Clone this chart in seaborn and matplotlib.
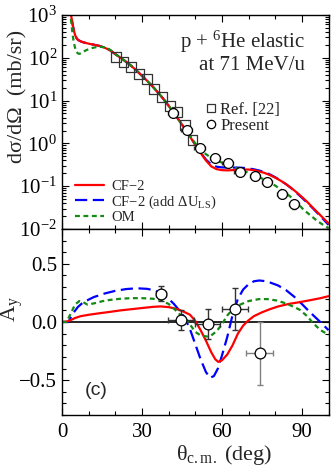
import numpy as np
import pandas as pd
import matplotlib
matplotlib.use("Agg")
import matplotlib.pyplot as plt
import seaborn as sns
from matplotlib.ticker import MultipleLocator, LogLocator, NullFormatter
from matplotlib.lines import Line2D

sns.set_theme(style="ticks")
plt.rcParams['font.family'] = ['Liberation Serif', 'DejaVu Serif']
plt.rcParams['mathtext.fontset'] = 'custom'
plt.rcParams['mathtext.rm'] = 'Liberation Serif'
plt.rcParams['mathtext.it'] = 'Liberation Serif:italic'
plt.rcParams['mathtext.bf'] = 'Liberation Serif:bold'

# --- cross section curves (deg, mb/sr)
cf2_deg = [2.8, 3.4, 4.0, 4.5, 5.0, 5.5, 6.0, 7, 8, 10, 12, 14, 16, 18, 20, 22, 24, 26, 28, 30, 32, 34, 36,
           38, 40, 42, 44, 46, 48, 50, 52, 54, 56, 58, 60, 62, 64, 66, 68, 70, 72, 74, 76, 78, 80, 82, 84,
           86, 88, 90, 92, 94, 96, 98, 100]
cf2_xs = [2000, 1000, 600, 420, 330, 285, 262, 242, 230, 214, 202, 190, 172, 150, 122, 100, 81, 64.6, 50.1,
          38, 28.8, 21.4, 15.5, 11, 7.6, 5.1, 3.4, 2.24, 1.45, 0.93, 0.60, 0.40, 0.29, 0.25, 0.237, 0.234,
          0.237, 0.243, 0.245, 0.245, 0.237, 0.221, 0.204, 0.182, 0.158, 0.135, 0.112, 0.091, 0.072, 0.056,
          0.043, 0.032, 0.024, 0.018, 0.0135]

cf2ls_deg = cf2_deg
cf2ls_xs = cf2_xs[:30] + [0.61, 0.42, 0.32, 0.285, 0.275, 0.272, 0.272, 0.272, 0.268, 0.26, 0.248, 0.232,
                          0.212, 0.188, 0.162, 0.137, 0.112, 0.09, 0.07, 0.054, 0.041, 0.031, 0.023, 0.017,
                          0.0125]

om_deg = [2.8, 3.2, 3.7, 4.2, 4.8, 5.4, 6.0, 6.6, 7.5, 9, 11, 13, 15, 17, 19, 20, 22, 24, 26, 28, 30, 32, 34,
          36, 38, 40, 42, 44, 46, 48, 50, 52, 54, 56, 58, 60, 62, 64, 66, 68, 70, 72, 74, 76, 78, 80, 82,
          84, 86, 88, 90, 92, 94, 96, 98, 100]
om_xs = [2000, 1000, 500, 280, 180, 140, 126, 124, 132, 150, 168, 178, 180, 170, 140, 122, 100, 81, 64.6,
         50.1, 38, 28.8, 21.4, 15.5, 11, 7.6, 5.1, 3.4, 2.3, 1.5, 1.0, 0.72, 0.56, 0.46, 0.4, 0.355, 0.32,
         0.285, 0.255, 0.228, 0.205, 0.183, 0.162, 0.142, 0.122, 0.103, 0.085, 0.069, 0.055, 0.043, 0.031,
         0.024, 0.019, 0.015, 0.0125, 0.0105]

# --- measured cross sections
ref22_deg = [20.25, 23.1, 26.0, 28.9, 31.8, 34.6, 37.5, 40.4, 43.3, 46.1, 49.0]
ref22_xs = [104, 80, 61, 42, 32, 18.7, 12.1, 7.5, 5.4, 2.7, 1.2]

pres_deg = [41.6, 46.8, 51.7, 57.4, 62.2, 66.7, 72.4, 76.9, 82.5, 87.0]
pres_xs = [5.05, 2.06, 0.77, 0.45, 0.34, 0.22, 0.176, 0.128, 0.066, 0.038]
pres_xerr = [2.0] * 10
pres_yerr = [0.4, 0.18, 0.07, 0.045, 0.035, 0.025, 0.02, 0.016, 0.011, 0.008]

# --- analyzing power curves
ay_cf2_deg = [0, 2, 3, 5, 7, 10, 14, 18, 22, 26, 30, 34, 37, 40, 42, 44, 46, 48, 50, 52, 54, 56, 57.5, 58.6,
              60, 62, 64, 66, 68, 70, 72, 75, 78, 81, 85, 89, 93, 97, 100]
ay_cf2 = [0, 0.005, 0.014, 0.035, 0.05, 0.062, 0.075, 0.087, 0.1, 0.11, 0.12, 0.13, 0.134, 0.128, 0.118,
          0.105, 0.085, 0.063, 0.01, -0.07, -0.16, -0.26, -0.32, -0.343, -0.33, -0.28, -0.2, -0.1, -0.03,
          0.015, 0.05, 0.083, 0.11, 0.133, 0.155, 0.17, 0.187, 0.205, 0.222]

ay_cf2ls_deg = [0, 2.4, 4, 6, 8, 12, 16, 20, 24, 28, 32, 35, 38, 40, 42, 44, 46, 48, 50, 52, 54, 55.5, 57,
                58.5, 60, 62, 64, 66, 68, 70, 72, 74, 76, 78, 81, 84, 87, 90, 93, 96, 100]
ay_cf2ls = [0, 0, 0.07, 0.13, 0.17, 0.215, 0.245, 0.268, 0.283, 0.29, 0.285, 0.27, 0.235, 0.2, 0.155, 0.1,
            0.04, -0.06, -0.19, -0.32, -0.43, -0.48, -0.465, -0.4, -0.29, -0.13, 0.06, 0.2, 0.28, 0.325,
            0.35, 0.357, 0.352, 0.34, 0.315, 0.275, 0.22, 0.155, 0.085, 0.02, -0.07]

ay_om_deg = [0, 1.7, 3, 4.9, 6.5, 8, 9.5, 12, 15, 18, 22, 26, 30, 34, 37, 40, 42, 44, 46.7, 48, 50, 52, 54.3,
             56, 58, 60, 62, 64, 66.7, 70, 74, 77, 80.5, 84, 87, 89.2, 92, 94.2, 97, 100]
ay_om = [0, 0, 0.06, 0.15, 0.18, 0.17, 0.15, 0.16, 0.178, 0.19, 0.2, 0.205, 0.205, 0.2, 0.19, 0.155, 0.115,
         0.07, 0.02, -0.02, -0.085, -0.115, -0.125, -0.115, -0.08, -0.02, 0.055, 0.11, 0.148, 0.18, 0.197,
         0.197, 0.185, 0.16, 0.13, 0.105, 0.05, -0.01, -0.07, -0.11]

# --- measured analyzing power
ay_deg = [37.1, 44.5, 54.6, 64.9, 74.2]
ay_val = [0.243, 0.02, -0.017, 0.11, -0.27]
ay_xerr = [2.0, 4.9, 4.7, 4.8, 5.0]
ay_yerr = [0.065, 0.085, 0.13, 0.18, 0.27]
ay_ecol = ['#333333', '#333333', '#333333', '#333333', '#808080']

RED, BLUE, GREEN = '#ff0000', '#0000ff', '#138a13'
DASH = (0, (5.5, 2.5))
DOT = (0, (2.2, 1.6))

fig = plt.figure(figsize=(3.32, 4.73), dpi=100)
ax1 = fig.add_axes([0.1867, 0.5159, 0.8028, 0.4524])
ax2 = fig.add_axes([0.1867, 0.1226, 0.8028, 0.3933])

lw = 1.6
sns.lineplot(x=cf2ls_deg, y=cf2ls_xs, ax=ax1, color=BLUE, lw=lw, linestyle=DASH, sort=False)
sns.lineplot(x=cf2_deg, y=cf2_xs, ax=ax1, color=RED, lw=lw, sort=False)
sns.lineplot(x=om_deg, y=om_xs, ax=ax1, color=GREEN, lw=lw, linestyle=DOT, sort=False)

sns.scatterplot(x=ref22_deg, y=ref22_xs, ax=ax1, marker='s', s=50, facecolor='none',
                edgecolor='#333333', linewidth=0.9, zorder=4)
ax1.errorbar(pres_deg, pres_xs, xerr=pres_xerr, yerr=pres_yerr, fmt='none', ecolor='#333333',
             elinewidth=0.8, capsize=1.5, zorder=4)
sns.scatterplot(x=pres_deg, y=pres_xs, ax=ax1, marker='o', s=50, facecolor='white',
                edgecolor='black', linewidth=0.9, zorder=5)

ax1.set_yscale('log')
ax1.set_xlim(0, 100)
ax1.set_ylim(1e-2, 1e3)
ax1.yaxis.set_major_locator(LogLocator(base=10, numticks=10))
ax1.yaxis.set_minor_locator(LogLocator(base=10, subs=np.arange(2, 10), numticks=20))
ax1.yaxis.set_minor_formatter(NullFormatter())
ax1.xaxis.set_major_locator(MultipleLocator(30))
ax1.xaxis.set_minor_locator(MultipleLocator(10))
ax1.set_xticklabels([])
ax1.set_xlabel('')
ax1.set_ylabel('dσ/dΩ  (mb/sr)', fontsize=16)
ax1.yaxis.set_label_coords(-0.13, 0.62)

ax1.text(0.91, 0.875, r'p + $^{6}$He elastic', transform=ax1.transAxes, ha='right', va='center', fontsize=15)
ax1.text(0.91, 0.765, 'at 71 MeV/u', transform=ax1.transAxes, ha='right', va='center', fontsize=15)

h_lines = [Line2D([], [], color=RED, lw=lw),
           Line2D([], [], color=BLUE, lw=lw, linestyle=DASH),
           Line2D([], [], color=GREEN, lw=lw, linestyle=DOT)]
leg1 = ax1.legend(h_lines, ['CF−2', r'CF−2 (add ΔU$_{\rm LS}$)', 'OM'], loc='lower left',
                  bbox_to_anchor=(0.02, -0.01), frameon=False, fontsize=10.5, handlelength=2.0,
                  handletextpad=0.5, labelspacing=0.0, borderaxespad=0.1)
ax1.add_artist(leg1)
h_pts = [Line2D([], [], marker='s', ls='none', mfc='none', mec='#333333', ms=6, mew=0.9),
         Line2D([], [], marker='o', ls='none', mfc='none', mec='black', ms=6, mew=0.9)]
ax1.legend(h_pts, ['Ref. [22]', 'Present'], loc='upper left', bbox_to_anchor=(0.515, 0.625),
           frameon=False, fontsize=12, handlelength=0.6, handletextpad=0.25, labelspacing=0.0,
           borderaxespad=0.0)

# bottom panel
ax2.axhline(0, color='black', lw=1.2, zorder=1)
sns.lineplot(x=ay_cf2ls_deg, y=ay_cf2ls, ax=ax2, color=BLUE, lw=lw, linestyle=DASH, sort=False)
sns.lineplot(x=ay_cf2_deg, y=ay_cf2, ax=ax2, color=RED, lw=lw, sort=False)
sns.lineplot(x=ay_om_deg, y=ay_om, ax=ax2, color=GREEN, lw=lw, linestyle=DOT, sort=False)
for xd, yv, xe, ye, c in zip(ay_deg, ay_val, ay_xerr, ay_yerr, ay_ecol):
    ax2.errorbar([xd], [yv], xerr=[xe], yerr=[ye], fmt='none', ecolor=c, elinewidth=1.0,
                 capsize=2.5, zorder=4)
sns.scatterplot(x=ay_deg, y=ay_val, ax=ax2, marker='o', s=60, facecolor='white',
                edgecolor='black', linewidth=0.9, zorder=5)

ax2.set_xlim(0, 100)
ax2.set_ylim(-0.8, 0.8)
ax2.xaxis.set_major_locator(MultipleLocator(30))
ax2.xaxis.set_minor_locator(MultipleLocator(10))
ax2.yaxis.set_major_locator(MultipleLocator(0.5))
ax2.yaxis.set_minor_locator(MultipleLocator(0.1))
ax2.yaxis.set_major_formatter(matplotlib.ticker.FuncFormatter(lambda v, p: f'{v:.1f}'.replace('-', '−')))
ax2.set_ylabel(r'A$_{\rm y}$', fontsize=16)
ax2.yaxis.set_label_coords(-0.14, 0.57)
ax2.set_xlabel(r'θ$_{\rm c.m.}$ (deg)', fontsize=16)
ax2.xaxis.set_label_coords(0.61, -0.15)
ax2.text(0.13, 0.13, '(c)', transform=ax2.transAxes, fontsize=14, family='Liberation Sans',
         ha='center', va='center')

for ax in (ax1, ax2):
    for s in ax.spines.values():
        s.set_linewidth(1.0)
        s.set_color('black')
    ax.tick_params(which='both', direction='in', top=True, right=True, colors='black', labelsize=15,
                   width=0.8)
    ax.tick_params(which='major', length=5)
    ax.tick_params(which='minor', length=3)
    ax.tick_params(axis='x', pad=6)

fig.savefig('out.png', dpi=100)
